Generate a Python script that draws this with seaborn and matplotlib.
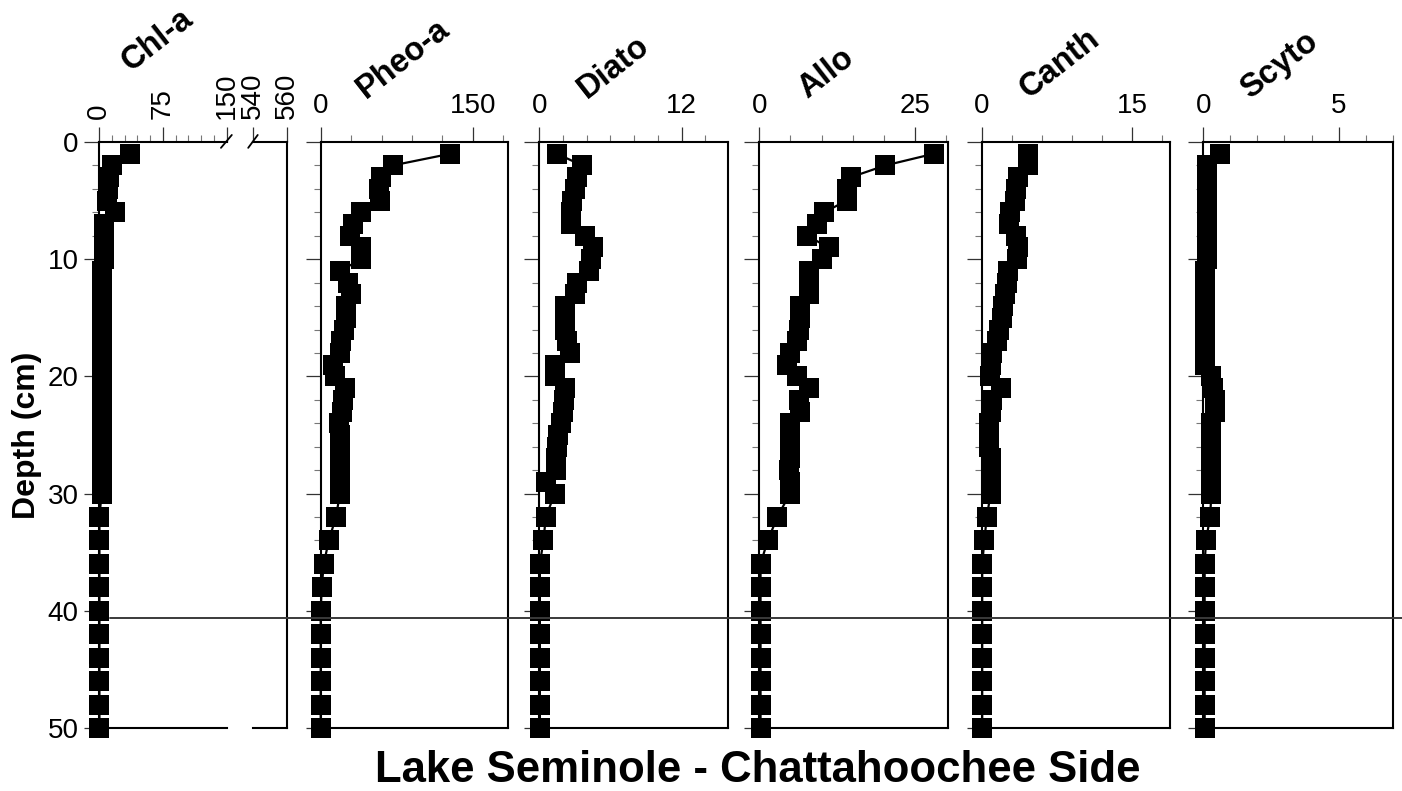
import matplotlib
matplotlib.use("Agg")
import matplotlib.pyplot as plt
import numpy as np
import pandas as pd
import seaborn as sns
from matplotlib.lines import Line2D
from matplotlib.transforms import blended_transform_factory

# ---------------- data ----------------
depth = [1, 2, 3, 4, 5, 6, 7, 8, 9, 10, 11, 12, 13, 14, 15, 16, 17, 18, 19, 20,
         21, 22, 23, 24, 25, 26, 27, 28, 29, 30, 32, 34, 36, 38, 40, 42, 44, 46, 48, 50]

chl_a = [37, 15, 12, 10, 9, 19, 6, 6, 6, 6, 3, 3, 3, 3, 3, 3, 3, 3, 3, 3,
         3, 3, 3, 3, 3, 3, 3, 3, 3, 3, 0.5, 0.5, 0.5, 0.5, 0.5, 0.5, 0.5, 0.5, 0.5, 0.5]

pheo_a = [128, 71, 59, 57, 58, 40, 32, 29, 40, 40, 19, 27, 30, 25, 25, 23, 20, 19, 12.5, 14,
          24, 22, 21, 18, 19, 19, 19, 19, 19, 19, 15, 8, 3, 1, 0, 0, 0, 0, 0, 0]

diato = [1.5, 3.6, 3.2, 3.0, 2.8, 2.65, 2.65, 3.85, 4.5, 4.35, 4.2, 3.15, 3.05, 2.2, 2.2, 2.2, 2.3, 2.6, 1.3, 1.3,
         2.2, 2.1, 2.0, 1.8, 1.6, 1.5, 1.4, 1.4, 0.6, 1.3, 0.55, 0.35, 0.05, 0.05, 0.05, 0.05, 0.05, 0.05, 0.05, 0.05]

allo = [28.0, 20.2, 14.7, 14.0, 14.0, 10.4, 9.2, 7.7, 11.1, 10.0, 8.0, 7.9, 7.9, 6.5, 6.5, 6.3, 6.0, 4.9, 4.5, 6.1,
        8.0, 6.4, 6.5, 4.9, 4.9, 4.9, 4.9, 4.7, 4.9, 4.9, 2.9, 1.35, 0.2, 0.2, 0.2, 0.2, 0.2, 0.2, 0.2, 0.2]

canth = [4.6, 4.6, 3.6, 3.4, 3.3, 2.8, 2.7, 3.4, 3.6, 3.5, 2.6, 2.5, 2.3, 2.1, 2.0, 1.7, 1.5, 1.0, 0.9, 0.8,
         1.9, 1.0, 0.9, 0.7, 0.7, 0.7, 0.9, 0.9, 0.9, 0.9, 0.5, 0.27, 0.05, 0.05, 0.05, 0.05, 0.05, 0.05, 0.05, 0.05]

scyto = [0.6, 0.15, 0.15, 0.15, 0.15, 0.15, 0.15, 0.15, 0.15, 0.15, 0.05, 0.05, 0.05, 0.05, 0.05, 0.05, 0.05, 0.05, 0.05, 0.3,
         0.35, 0.45, 0.45, 0.3, 0.3, 0.3, 0.3, 0.3, 0.3, 0.3, 0.25, 0.1, 0.05, 0.05, 0.05, 0.05, 0.05, 0.05, 0.05, 0.05]

panel_names = ["Chl-a", "Pheo-a", "Diato", "Allo", "Canth", "Scyto"]
depth_ticks = [0, 10, 20, 30, 40, 50]
chl_left_ticks = [0, 75, 150]
chl_right_ticks = [540, 560]
pheo_ticks = [0, 150]
diato_ticks = [0, 12]
allo_ticks = [0, 25]
canth_ticks = [0, 15]
scyto_ticks = [0, 5]
marker_depth = 40.6
x_title = "Lake Seminole - Chattahoochee Side"
y_title = "Depth (cm)"

df = pd.DataFrame({"depth": depth, "Chl-a": chl_a, "Pheo-a": pheo_a, "Diato": diato,
                   "Allo": allo, "Canth": canth, "Scyto": scyto})

# ---------------- style ----------------
sns.set_theme(style="white")
plt.rcParams["font.family"] = ["Liberation Sans", "DejaVu Sans"]

W, H = 1402, 791
TOP, BOT = 142, 728
fig = plt.figure(figsize=(W / 100, H / 100), dpi=100)


def rect(x0, x1):
    return [x0 / W, 1 - BOT / H, (x1 - x0) / W, (BOT - TOP) / H]


TICK_FS = 20
line_kw = dict(color="black", marker="s", markersize=13.8, markeredgewidth=0,
               linewidth=1.6, clip_on=False)


def style_axis(ax, majors, minors, ylabels=False, rot=0):
    ax.set_ylim(50, 0)
    ax.set_xlabel("")
    ax.set_ylabel("")
    ax.set_xticks(majors)
    ax.set_xticks(minors, minor=True)
    ax.set_yticks(depth_ticks)
    ax.set_yticks(np.arange(0, 51, 2), minor=True)
    ax.tick_params(which="both", direction="out")
    ax.tick_params(axis="x", which="both", top=True, bottom=False,
                   labeltop=True, labelbottom=False)
    ax.tick_params(axis="y", which="both", left=True, right=False,
                   labelleft=ylabels)
    ax.tick_params(which="major", length=10.8, width=0.9, color="#333333",
                   labelsize=TICK_FS, labelcolor="black")
    ax.tick_params(which="minor", length=5, width=0.8, color="#777777")
    ax.tick_params(axis="x", pad=6, labelrotation=rot)
    ax.tick_params(axis="y", pad=4)
    ax.grid(False)
    for s in ax.spines.values():
        s.set_color("black")
        s.set_linewidth(1.5)


# ---- Chl-a (broken axis) ----
ax_cl = fig.add_axes(rect(99, 226.7))
sns.lineplot(data=df, x="Chl-a", y="depth", sort=False, estimator=None, ax=ax_cl, **line_kw)
ax_cl.set_xlim(0, 150)
style_axis(ax_cl, chl_left_ticks, np.arange(0, 151, 15), ylabels=True, rot=90)
ax_cl.spines["right"].set_visible(False)

ax_cr = fig.add_axes(rect(253.3, 287.3))
ax_cr.set_xlim(540, 560)
style_axis(ax_cr, chl_right_ticks, [], rot=90)
ax_cr.tick_params(axis="y", which="both", left=False)
ax_cr.spines["left"].set_visible(False)
ax_cr.patch.set_alpha(0)

# break marks (top)
ax_cl.plot([0.955, 1.04], [0.99, 1.012], transform=ax_cl.transAxes, color="black",
           lw=1.3, clip_on=False)
ax_cr.plot([-0.15, 0.13], [0.99, 1.012], transform=ax_cr.transAxes, color="black",
           lw=1.3, clip_on=False)

# ---- other panels ----
others = [
    ("Pheo-a", 320.7, 508.3, 185, pheo_ticks, np.arange(0, 181, 30)),
    ("Diato", 539.3, 728.3, 15.94, diato_ticks, np.arange(0, 15, 2)),
    ("Allo", 759.3, 948.3, 30.3, allo_ticks, np.arange(0, 31, 5)),
    ("Canth", 981.7, 1170, 18.8, canth_ticks, np.arange(0, 19, 3)),
    ("Scyto", 1203.3, 1392.7, 7.0, scyto_ticks, np.arange(0, 8, 1)),
]
axes = [ax_cl]
for name, x0, x1, xmax, majors, minors in others:
    ax = fig.add_axes(rect(x0, x1))
    sns.lineplot(data=df, x=name, y="depth", sort=False, estimator=None, ax=ax, **line_kw)
    ax.set_xlim(0, xmax)
    style_axis(ax, majors, minors)
    axes.append(ax)

# ---- titles ----
title_anchor = [(131, 72), (366, 99), (587, 99), (807, 99), (1029, 99), (1250, 99)]
for name, (tx, ty) in zip(panel_names, title_anchor):
    fig.text(tx / W, 1 - ty / H, name, rotation=38, rotation_mode="anchor",
             ha="left", va="baseline", fontsize=23.5, fontweight="bold", color="black")

fig.text(27 / W, 1 - 435 / H, y_title, rotation=90, ha="center", va="center",
         fontsize=23, fontweight="bold", color="black")
fig.text(758 / W, 1 - 771 / H, x_title, ha="center", va="center",
         fontsize=31.5, fontweight="bold", color="black")

# ---- horizontal reference line ----
trans = blended_transform_factory(fig.transFigure, ax_cl.transData)
fig.add_artist(Line2D([110 / W, 1.0], [marker_depth, marker_depth], transform=trans,
                      color="#3a3a3a", lw=1.4, zorder=10))

fig.savefig("out.png", dpi=100)
